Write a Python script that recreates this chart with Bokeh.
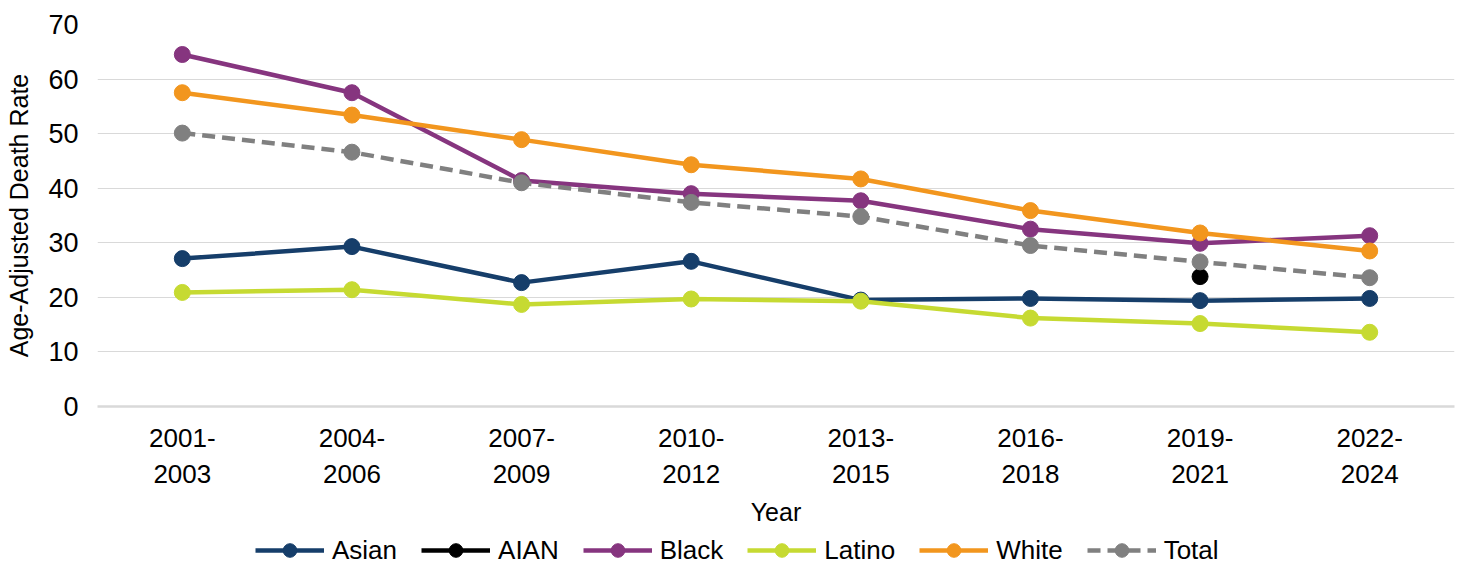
from bokeh.plotting import figure
from bokeh.layouts import column
from bokeh.models import FactorRange, Range1d, FixedTicker, Legend, LegendItem
from bokeh.embed import file_html
from bokeh.resources import INLINE

nan = float("nan")

periods = ["2001-2003", "2004-2006", "2007-2009", "2010-2012",
           "2013-2015", "2016-2018", "2019-2021", "2022-2024"]

asian = [27.1, 29.3, 22.7, 26.6, 19.5, 19.8, 19.4, 19.8]
aian = [nan, nan, nan, nan, nan, nan, 23.8, nan]
black = [64.5, 57.5, 41.4, 39.0, 37.7, 32.5, 29.9, 31.3]
latino = [20.9, 21.4, 18.7, 19.7, 19.3, 16.2, 15.2, 13.6]
white = [57.5, 53.4, 48.9, 44.3, 41.7, 35.9, 31.8, 28.5]
total = [50.1, 46.6, 41.0, 37.4, 34.8, 29.5, 26.5, 23.6]

y_ticks = [0, 10, 20, 30, 40, 50, 60, 70]

series = [
    ("Asian", asian, "#163E6A", "solid"),
    ("AIAN", aian, "#000000", "solid"),
    ("Black", black, "#86357F", "solid"),
    ("Latino", latino, "#C6DA32", "solid"),
    ("White", white, "#F2961E", "solid"),
    ("Total", total, "#808080", "13 7"),
]

FONT = "Liberation Sans"
LW = 4.5

cats = [s.replace("-", "-\n") for s in periods]

# ---------------- main chart ----------------
p = figure(width=1458, height=531,
           x_range=FactorRange(factors=cats, range_padding=0),
           y_range=Range1d(0, 70),
           output_backend="svg", toolbar_location=None,
           min_border_left=97, min_border_right=4, min_border_top=24,
           min_border_bottom=125)

p.outline_line_color = None
p.background_fill_color = "white"
p.border_fill_color = "white"

for name, vals, color, dash in series:
    p.line(cats, vals, line_color=color, line_width=LW, line_dash=dash)
    p.scatter(cats, vals, marker="circle", size=16, fill_color=color,
              line_color=color)

p.yaxis.ticker = FixedTicker(ticks=y_ticks)
p.yaxis.axis_line_color = None
p.yaxis.major_tick_line_color = None
p.yaxis.minor_tick_line_color = None
p.yaxis.major_tick_out = 0
p.yaxis.major_tick_in = 0
p.yaxis.major_label_text_font = FONT
p.yaxis.major_label_text_font_size = "27px"
p.yaxis.major_label_text_color = "#000000"
p.yaxis.major_label_standoff = 19
p.yaxis.axis_label = "Age-Adjusted Death Rate"
p.yaxis.axis_label_text_font = FONT
p.yaxis.axis_label_text_font_size = "25px"
p.yaxis.axis_label_text_font_style = "normal"
p.yaxis.axis_label_text_color = "#000000"
p.yaxis.axis_label_standoff = 12

p.xaxis.axis_line_color = "#D9D9D9"
p.xaxis.axis_line_width = 2.5
p.xaxis.major_tick_line_color = None
p.xaxis.minor_tick_line_color = None
p.xaxis.major_tick_out = 0
p.xaxis.major_tick_in = 0
p.xaxis.major_label_text_font = FONT
p.xaxis.major_label_text_font_size = "26px"
p.xaxis.major_label_text_color = "#000000"
p.xaxis.major_label_standoff = 16
p.xaxis.axis_label = "Year"
p.xaxis.axis_label_text_font = FONT
p.xaxis.axis_label_text_font_size = "25px"
p.xaxis.axis_label_text_font_style = "normal"
p.xaxis.axis_label_text_color = "#000000"
p.xaxis.axis_label_standoff = 6

p.xgrid.grid_line_color = None
p.ygrid.grid_line_color = "#D9D9D9"
p.ygrid.grid_line_width = 1.2

# ---------------- legend strip ----------------
lg = figure(width=1458, height=38, x_range=Range1d(0, 1), y_range=Range1d(0, 1),
            output_backend="svg", toolbar_location=None,
            x_axis_location=None, y_axis_location=None,
            min_border_left=0, min_border_right=0, min_border_top=0,
            min_border_bottom=0)
lg.outline_line_color = None
lg.xgrid.visible = False
lg.ygrid.visible = False
lg.background_fill_color = "white"
lg.border_fill_color = "white"

items = []
for name, vals, color, dash in series:
    ln = lg.line([nan], [nan], line_color=color, line_width=LW, line_dash=dash)
    sc = lg.scatter([nan], [nan], marker="circle", size=16, fill_color=color,
                    line_color=color)
    items.append(LegendItem(label=name, renderers=[ln, sc]))

legend = Legend(items=items, orientation="horizontal", location=(158, 2),
                label_text_font=FONT, label_text_font_size="26px",
                label_text_color="#000000",
                glyph_width=69, glyph_height=34, label_standoff=8,
                spacing=24, padding=0, margin=0,
                border_line_color=None, background_fill_alpha=0)
lg.add_layout(legend, "center")

layout = column(p, lg, spacing=0)

open("out.html", "w").write(file_html(layout, INLINE))
